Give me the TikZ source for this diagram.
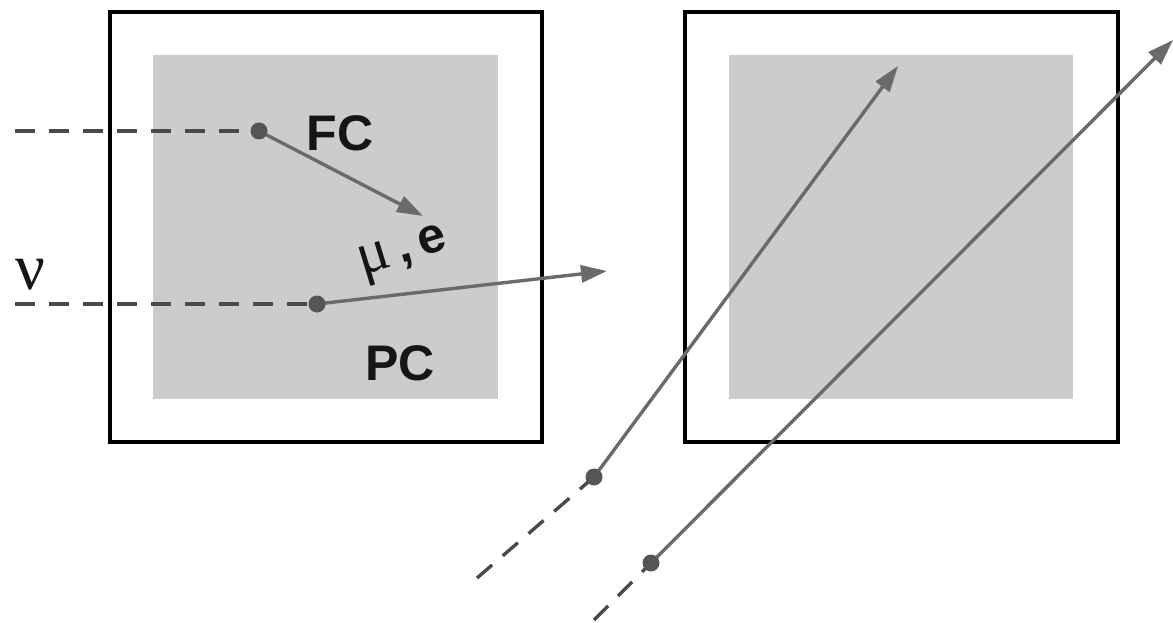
\documentclass[tikz,border=0pt]{standalone}
\usepackage{fontspec}
\setmainfont{Liberation Sans}
\newfontfamily\greekfont{Liberation Serif}
\usetikzlibrary{arrows.meta}
\definecolor{fillgray}{HTML}{CCCCCC}
\definecolor{dashgray}{HTML}{4A4A4A}
\definecolor{arrowgray}{HTML}{6A6A6A}
\definecolor{dotgray}{HTML}{555555}
\definecolor{txt}{HTML}{151515}
\begin{document}
\begin{tikzpicture}[x=1pt,y=-1pt,
  outerbox/.style={draw=black,line width=3.4pt},
  innerbox/.style={fill=fillgray,draw=none},
  incoming/.style={draw=dashgray,line width=3.4pt,dash pattern=on 20pt off 14pt},
  track/.style={draw=arrowgray,line width=3.4pt,-{Triangle[length=26pt,width=17pt]}},
  vtx/.style={fill=dotgray},
  lbl/.style={text=txt,font=\fontsize{50}{58}\selectfont\bfseries,inner sep=0pt}
]
\useasboundingbox (0,0) rectangle (1173,623);
% detectors
\fill[fillgray] (153,55) rectangle (498,399);
\draw[outerbox] (110,12) rectangle (542,442);
\fill[fillgray] (729,55) rectangle (1073,399);
\draw[outerbox] (685,12) rectangle (1118,442);
% coordinates
\coordinate (s1) at (15,131);
\coordinate (v1) at (259,131);
\coordinate (e1) at (423,216);
\coordinate (s2) at (15,304);
\coordinate (v2) at (317,304);
\coordinate (e2) at (607,271);
\coordinate (s3) at (477,578);
\coordinate (v3) at (594,477);
\coordinate (e3) at (898,66);
\coordinate (s4) at (594,620);
\coordinate (v4) at (651,563);
\coordinate (e4) at (1173,40);
% tracks
\draw[incoming] (s1) -- (v1);
\draw[track] (v1) -- (e1);
\draw[incoming] (s2) -- (v2);
\draw[track] (v2) -- (e2);
\draw[incoming] (s3) -- (v3);
\draw[track] (v3) -- (e3);
\draw[incoming] (s4) -- (v4);
\draw[track] (v4) -- (e4);
% vertices
\foreach \v in {v1,v2,v3,v4} \fill[vtx] (\v) circle (8.5pt);
% labels
\node[lbl] (fc) at (340,133) {FC};
\node[lbl] (pc) at (400,363) {PC};
\node[text=txt,inner sep=0pt] (nu) at (30,275) {\greekfont\fontsize{66}{72}\selectfont ν};
\node[text=txt,inner sep=0pt,rotate=17] (mue) at (404,255) {\greekfont\fontsize{60}{66}\selectfont μ\normalfont\fontsize{50}{58}\selectfont\bfseries\,,\,e};
\end{tikzpicture}
\end{document}
